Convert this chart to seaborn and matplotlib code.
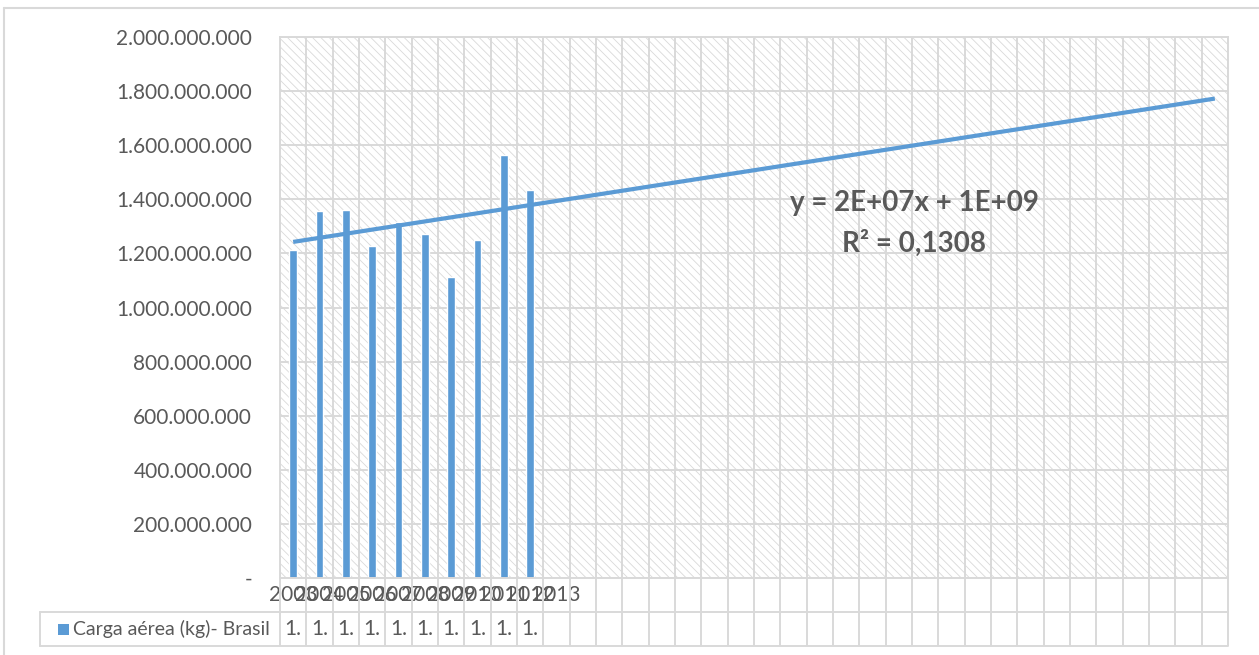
#!/usr/bin/env python

import numpy as np
import pandas as pd
import matplotlib
matplotlib.use('Agg')
import seaborn as sns
import matplotlib.pyplot as plt
from matplotlib.patches import Rectangle
from matplotlib.lines import Line2D
from matplotlib.ticker import FuncFormatter

# data
anos = ['2003', '2004', '2005', '2006', '2007', '2008', '2009', '2010', '2011', '2012', '2013']
carga = [1.213e9, 1.357e9, 1.359e9, 1.228e9, 1.317e9, 1.271e9, 1.114e9, 1.250e9, 1.563e9, 1.434e9]
serie = 'Carga aérea (kg)- Brasil'
equacao = 'y = 2E+07x + 1E+09'
r2 = 'R² = 0,1308'
n_cols = 36

azul = '#5B9BD5'
cinza = '#D9D9D9'
texto = '#595959'

sns.set_style('white')
plt.rcParams['font.family'] = ['Lato', 'DejaVu Sans']
plt.rcParams['hatch.linewidth'] = 0.6

df = pd.DataFrame({'pos': range(len(carga)), 'valor': carga})

W, H = 1259, 655
fig = plt.figure(figsize=(W / 100, H / 100), dpi=100)
ax = fig.add_axes([280 / W, 1 - 578 / H, 948 / W, 541 / H])

# hatched plot background
ax.add_patch(Rectangle((0, 0), 1, 1, transform=ax.transAxes, facecolor='white',
                       edgecolor=cinza, hatch='\\\\\\\\', linewidth=0, zorder=0))

sns.barplot(data=df, x='pos', y='valor', order=list(range(n_cols)), color=azul,
            saturation=1, width=0.28, errorbar=None, ax=ax, zorder=2)

# linear trend, extended over all columns
coef = np.polyfit(np.arange(1, len(carga) + 1), carga, 1)
xs = np.arange(0, n_cols)
ax.plot(xs, np.polyval(coef, xs + 1), color=azul, lw=3.0, solid_capstyle='butt', zorder=3)

ax.set_xlim(-0.5, n_cols - 0.5)
ax.set_ylim(0, 2e9)
ax.set_yticks(np.arange(0, 2.01e9, 2e8))
ax.yaxis.set_major_formatter(FuncFormatter(
    lambda v, _: '-' if v == 0 else f'{v:,.0f}'.replace(',', '.')))
ax.set_xticks(range(n_cols))
ax.set_xticklabels(anos + [''] * (n_cols - len(anos)))
ax.set_xticks(np.arange(-0.5, n_cols), minor=True)
ax.set_xlabel('')
ax.set_ylabel('')
ax.tick_params(axis='both', which='both', length=0, labelsize=15, colors=texto)
ax.tick_params(axis='y', pad=20)
ax.tick_params(axis='x', pad=5)
ax.set_axisbelow(True)
ax.yaxis.grid(True, color=cinza, lw=1.4)
ax.xaxis.grid(True, which='minor', color=cinza, lw=1.4)
ax.xaxis.grid(False, which='major')
for s in ax.spines.values():
    s.set_color(cinza)
    s.set_linewidth(1.4)

ax.text(0.6688, 0.6932, equacao, transform=ax.transAxes, ha='center', va='center',
        fontsize=20, fontweight='bold', color=texto)
ax.text(0.6688, 0.6192, r2, transform=ax.transAxes, ha='center', va='center',
        fontsize=20, fontweight='bold', color=texto)

# data table under the axis
trans = ax.get_xaxis_transform()
y_mid = -34 / 541
y_bot = -68 / 541
x_leg = (40 - 280) / 948
ax.vlines(np.arange(-0.5, n_cols), y_bot, 0, transform=trans, color=cinza, lw=1.4, clip_on=False)
for yy in (y_mid, y_bot):
    ax.add_line(Line2D([x_leg, 1], [yy, yy], transform=ax.transAxes, color=cinza, lw=1.4, clip_on=False))
ax.add_line(Line2D([x_leg, x_leg], [y_mid, y_bot], transform=ax.transAxes, color=cinza, lw=1.4, clip_on=False))

y_row = (y_mid + y_bot) / 2
for i, v in enumerate(carga):
    rotulo = f'{v:,.0f}'.replace(',', '.')[:2]
    ax.text(i, y_row, rotulo, transform=trans, ha='center', va='center', fontsize=15, color=texto)
ax.add_patch(Rectangle(((58 - 280) / 948, y_row - 5.5 / 541), 11 / 948, 11 / 541,
                       transform=ax.transAxes, facecolor=azul, lw=0, clip_on=False))
ax.text((73 - 280) / 948, y_row, serie, transform=ax.transAxes, ha='left', va='center',
        fontsize=14, color=texto)

# chart frame (only top and left edges visible)
fig.add_artist(Line2D([4 / W, 1], [1 - 8 / H] * 2, transform=fig.transFigure, color=cinza, lw=1.5))
fig.add_artist(Line2D([4 / W] * 2, [0, 1 - 8 / H], transform=fig.transFigure, color=cinza, lw=1.5))

fig.savefig('out.png', dpi=100)
plt.close()
